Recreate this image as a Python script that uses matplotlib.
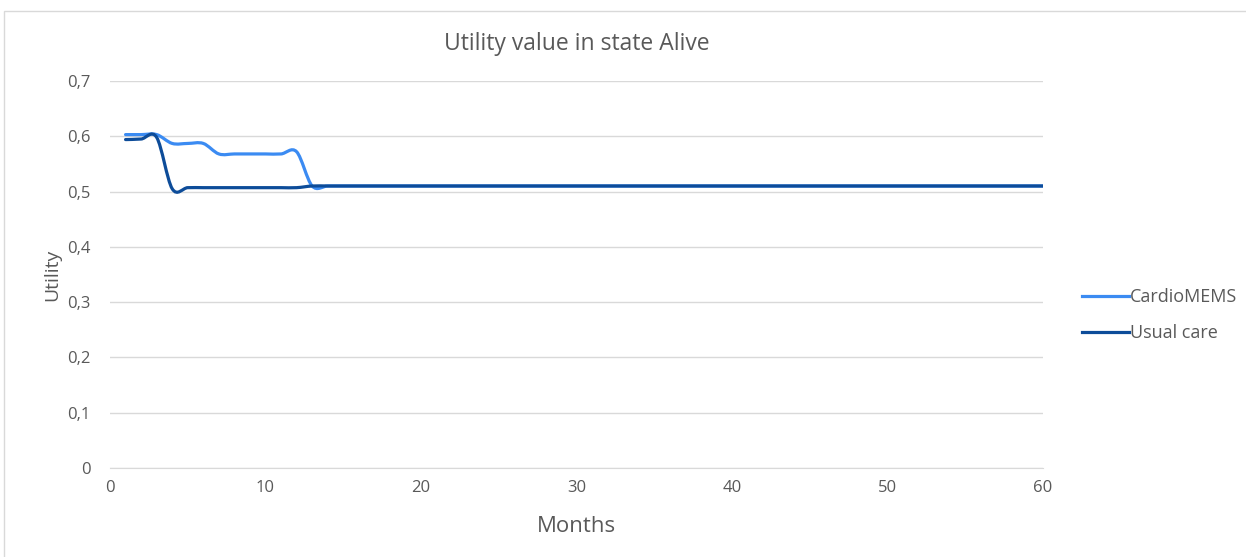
import matplotlib.pyplot as plt
from matplotlib.path import Path
from matplotlib.patches import PathPatch, Rectangle
from matplotlib.lines import Line2D
from matplotlib.ticker import FuncFormatter

# values, one per month
months = list(range(1, 61))
cardiomems = [0.603, 0.603, 0.603, 0.587, 0.587, 0.587, 0.568, 0.568, 0.568, 0.568,
              0.568, 0.572, 0.510] + [0.510] * 47
usual_care = [0.594, 0.595, 0.598, 0.505, 0.507, 0.507, 0.507, 0.507, 0.507, 0.507,
              0.507, 0.507, 0.510] + [0.510] * 47

series_names = ['CardioMEMS', 'Usual care']
series_colors = ['#3b8bf2', '#0d4c99']
x_ticks = [0, 10, 20, 30, 40, 50, 60]
y_ticks = [0, 0.1, 0.2, 0.3, 0.4, 0.5, 0.6, 0.7]


def smooth_path(xs, ys):
    # Excel style smoothed line: bezier segments between the data points
    verts = [(xs[0], ys[0])]
    codes = [Path.MOVETO]
    n = len(xs)
    for i in range(n - 1):
        x0, y0 = (xs[i - 1], ys[i - 1]) if i > 0 else (xs[i], ys[i])
        x1, y1 = xs[i], ys[i]
        x2, y2 = xs[i + 1], ys[i + 1]
        x3, y3 = (xs[i + 2], ys[i + 2]) if i + 2 < n else (x2, y2)
        c1 = (x1 + (x2 - x0) / 6, y1 + (y2 - y0) / 6)
        c2 = (x2 - (x3 - x1) / 6, y2 - (y3 - y1) / 6)
        verts += [c1, c2, (x2, y2)]
        codes += [Path.CURVE4] * 3
    return Path(verts, codes)


def main():
    plt.rcParams['font.family'] = ['Open Sans', 'DejaVu Sans']
    fig = plt.figure(figsize=(12.46, 5.57), dpi=100)
    ax = fig.add_axes([0.0883, 0.16, 0.7487, 0.6946])

    fig.patches.append(Rectangle((0.003, -0.01), 1.1, 0.99, transform=fig.transFigure,
                                 fill=False, edgecolor='#d9d9d9', linewidth=1))

    handles = []
    for ys, name, col in zip([cardiomems, usual_care], series_names, series_colors):
        patch = PathPatch(smooth_path(months, ys), facecolor='none', edgecolor=col,
                          linewidth=2.3, capstyle='round', zorder=3)
        ax.add_patch(patch)
        handles.append(Line2D([], [], color=col, linewidth=2.3, label=name))

    ax.set_xlim(0, 60)
    ax.set_ylim(0, 0.7)
    ax.set_xticks(x_ticks)
    ax.set_yticks(y_ticks)
    ax.yaxis.set_major_formatter(FuncFormatter(lambda v, p: '0' if v == 0 else f'{v:.1f}'.replace('.', ',')))
    ax.grid(axis='y', color='#d9d9d9', linewidth=1)
    ax.set_axisbelow(True)
    for s in ['top', 'right', 'left']:
        ax.spines[s].set_visible(False)
    ax.spines['bottom'].set_color('#d9d9d9')
    ax.tick_params(axis='x', length=0, labelsize=12, labelcolor='#595959', pad=9)
    ax.tick_params(axis='y', length=0, labelsize=12, labelcolor='#595959', pad=14)

    ax.set_title('Utility value in state Alive', fontsize=16.5, color='#595959', pad=22)
    ax.set_xlabel('Months', fontsize=16, color='#595959', labelpad=14)
    ax.set_ylabel('Utility', fontsize=14, color='#595959', labelpad=4)

    ax.legend(handles=handles, loc='center left', bbox_to_anchor=(1.025, 0.395), frameon=False,
              fontsize=13, labelcolor='#595959', handlelength=2.6, handletextpad=0.05,
              labelspacing=1.0)

    fig.savefig('out.png', dpi=100)


if __name__ == '__main__':
    main()
